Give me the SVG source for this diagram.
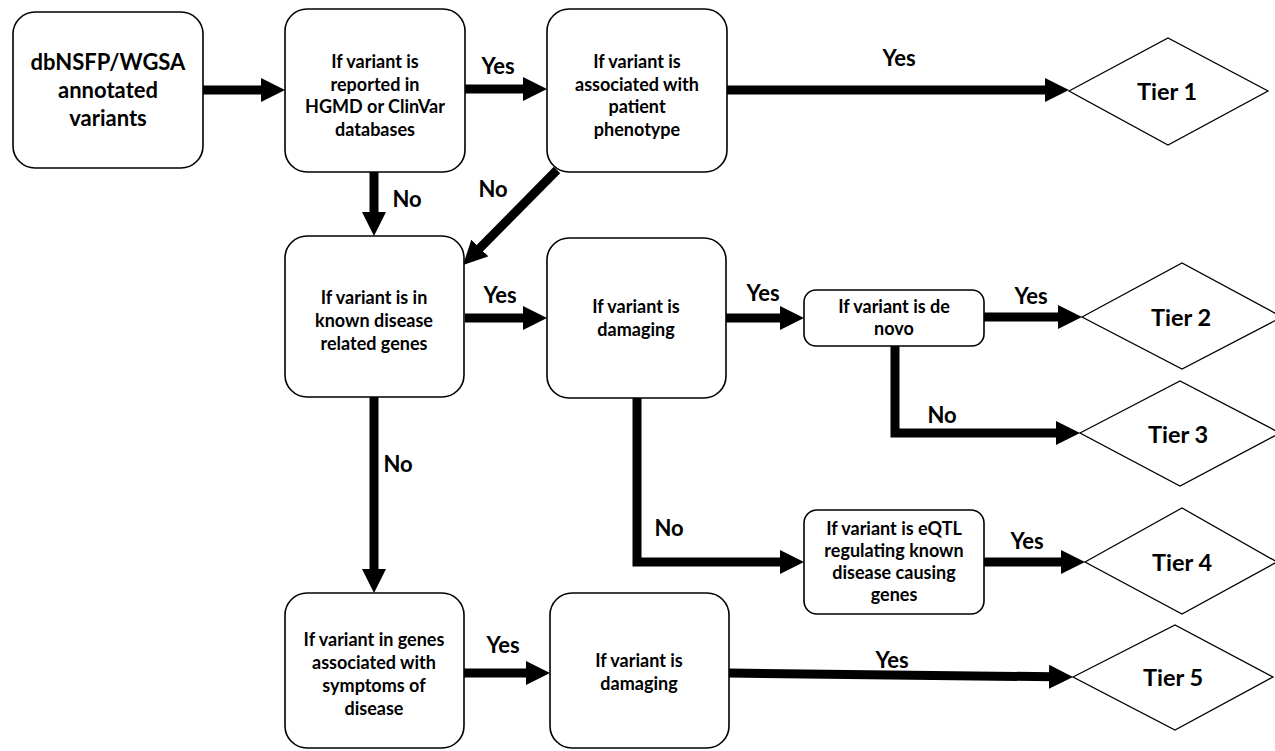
<svg xmlns="http://www.w3.org/2000/svg" width="1275" height="751" viewBox="0 0 1275 751">
<style>
.box{fill:#fff;stroke:#000;stroke-width:1.6}
.dia{fill:#fff;stroke:#000;stroke-width:1.3}
.t{font-family:Lato,"Liberation Sans",sans-serif;font-weight:bold;font-size:18px;text-anchor:middle;fill:#000}
.big{font-size:22px}
.tier{font-size:23.5px}
.lbl{font-family:Lato,"Liberation Sans",sans-serif;font-weight:bold;font-size:22px;text-anchor:middle;fill:#000}
.c{fill:none;stroke:#000;stroke-width:9;stroke-linejoin:miter;marker-end:url(#ah)}
</style>
<defs>
<marker id="ah" viewBox="0 0 24 24" markerWidth="24" markerHeight="24" refX="4" refY="12" markerUnits="userSpaceOnUse" orient="auto">
<path d="M0,0 L24,12 L0,24 z" fill="#000"/>
</marker>
</defs>
<rect width="1275" height="751" fill="#fff"/>
<g id="connectors">
<line class="c" x1="203" y1="90" x2="265" y2="90"/>
<line class="c" x1="465" y1="89" x2="527" y2="89"/>
<line class="c" x1="727" y1="90" x2="1049" y2="90"/>
<line class="c" x1="374" y1="172" x2="374" y2="216"/>
<line class="c" x1="557" y1="170" x2="477.1" y2="250.8"/>
<line class="c" x1="465" y1="318" x2="527" y2="318"/>
<line class="c" x1="726" y1="318" x2="784" y2="318"/>
<line class="c" x1="984" y1="317" x2="1062" y2="317"/>
<polyline class="c" points="895,346 895,433 1060,433"/>
<line class="c" x1="374" y1="397" x2="374" y2="573"/>
<polyline class="c" points="637,398 637,562 784,562"/>
<line class="c" x1="984" y1="562" x2="1065" y2="562"/>
<line class="c" x1="464" y1="673" x2="530" y2="673"/>
<line class="c" x1="729" y1="673" x2="1053" y2="676.8"/>
<text class="lbl" x="498" y="74">Yes</text>
<text class="lbl" x="899" y="66">Yes</text>
<text class="lbl" x="407" y="207">No</text>
<text class="lbl" x="493" y="197">No</text>
<text class="lbl" x="500" y="303">Yes</text>
<text class="lbl" x="763" y="301">Yes</text>
<text class="lbl" x="1031" y="304">Yes</text>
<text class="lbl" x="942" y="423">No</text>
<text class="lbl" x="398" y="472">No</text>
<text class="lbl" x="669" y="536">No</text>
<text class="lbl" x="1027" y="549">Yes</text>
<text class="lbl" x="503" y="653">Yes</text>
<text class="lbl" x="892" y="668">Yes</text>
</g>
<g id="start">
<rect class="box" x="13" y="12" width="190" height="156" rx="22"/>
<text class="t big" x="108" y="70">dbNSFP/WGSA</text>
<text class="t big" x="108" y="98">annotated</text>
<text class="t big" x="108" y="126">variants</text>
</g>
<g id="hgmd">
<rect class="box" x="285" y="9" width="180" height="163" rx="22"/>
<text class="t" x="375" y="68">If variant is</text>
<text class="t" x="375" y="90.5">reported in</text>
<text class="t" x="375" y="113">HGMD or ClinVar</text>
<text class="t" x="375" y="136">databases</text>
</g>
<g id="phenotype">
<rect class="box" x="547" y="9" width="180" height="163" rx="22"/>
<text class="t" x="637" y="68">If variant is</text>
<text class="t" x="637" y="90.5">associated with</text>
<text class="t" x="637" y="113">patient</text>
<text class="t" x="637" y="136">phenotype</text>
</g>
<g id="tier1">
<polygon class="dia" points="1069,91 1168,38 1268,91 1168,145"/>
<text class="t tier" x="1167" y="100">Tier 1</text>
</g>
<g id="known-genes">
<rect class="box" x="285" y="236" width="179" height="161" rx="22"/>
<text class="t" x="374" y="304">If variant is in</text>
<text class="t" x="374" y="327">known disease</text>
<text class="t" x="374" y="350">related genes</text>
</g>
<g id="damaging1">
<rect class="box" x="547" y="238" width="179" height="160" rx="22"/>
<text class="t" x="636" y="313">If variant is</text>
<text class="t" x="636" y="336">damaging</text>
</g>
<g id="denovo">
<rect class="box" x="804" y="290" width="180" height="56" rx="12"/>
<text class="t" x="894" y="313">If variant is de</text>
<text class="t" x="894" y="335">novo</text>
</g>
<g id="tier2">
<polygon class="dia" points="1082,317 1182,263 1282,317 1182,369"/>
<text class="t tier" x="1181" y="326">Tier 2</text>
</g>
<g id="tier3">
<polygon class="dia" points="1080,433 1180,381 1280,433 1180,486"/>
<text class="t tier" x="1178" y="443">Tier 3</text>
</g>
<g id="eqtl">
<rect class="box" x="804" y="510" width="180" height="104" rx="13"/>
<text class="t" x="894" y="535">If variant is eQTL</text>
<text class="t" x="894" y="557">regulating known</text>
<text class="t" x="894" y="579">disease causing</text>
<text class="t" x="894" y="601">genes</text>
</g>
<g id="tier4">
<polygon class="dia" points="1085,562 1182,508 1277,562 1182,614"/>
<text class="t tier" x="1182" y="571">Tier 4</text>
</g>
<g id="symptoms">
<rect class="box" x="285" y="593" width="179" height="155" rx="22"/>
<text class="t" x="374" y="646">If variant in genes</text>
<text class="t" x="374" y="669">associated with</text>
<text class="t" x="374" y="692">symptoms of</text>
<text class="t" x="374" y="715">disease</text>
</g>
<g id="damaging2">
<rect class="box" x="550" y="593" width="179" height="155" rx="22"/>
<text class="t" x="639" y="667">If variant is</text>
<text class="t" x="639" y="690">damaging</text>
</g>
<g id="tier5">
<polygon class="dia" points="1073,677 1175,625 1273,677 1175,730"/>
<text class="t tier" x="1173" y="686">Tier 5</text>
</g>
</svg>
